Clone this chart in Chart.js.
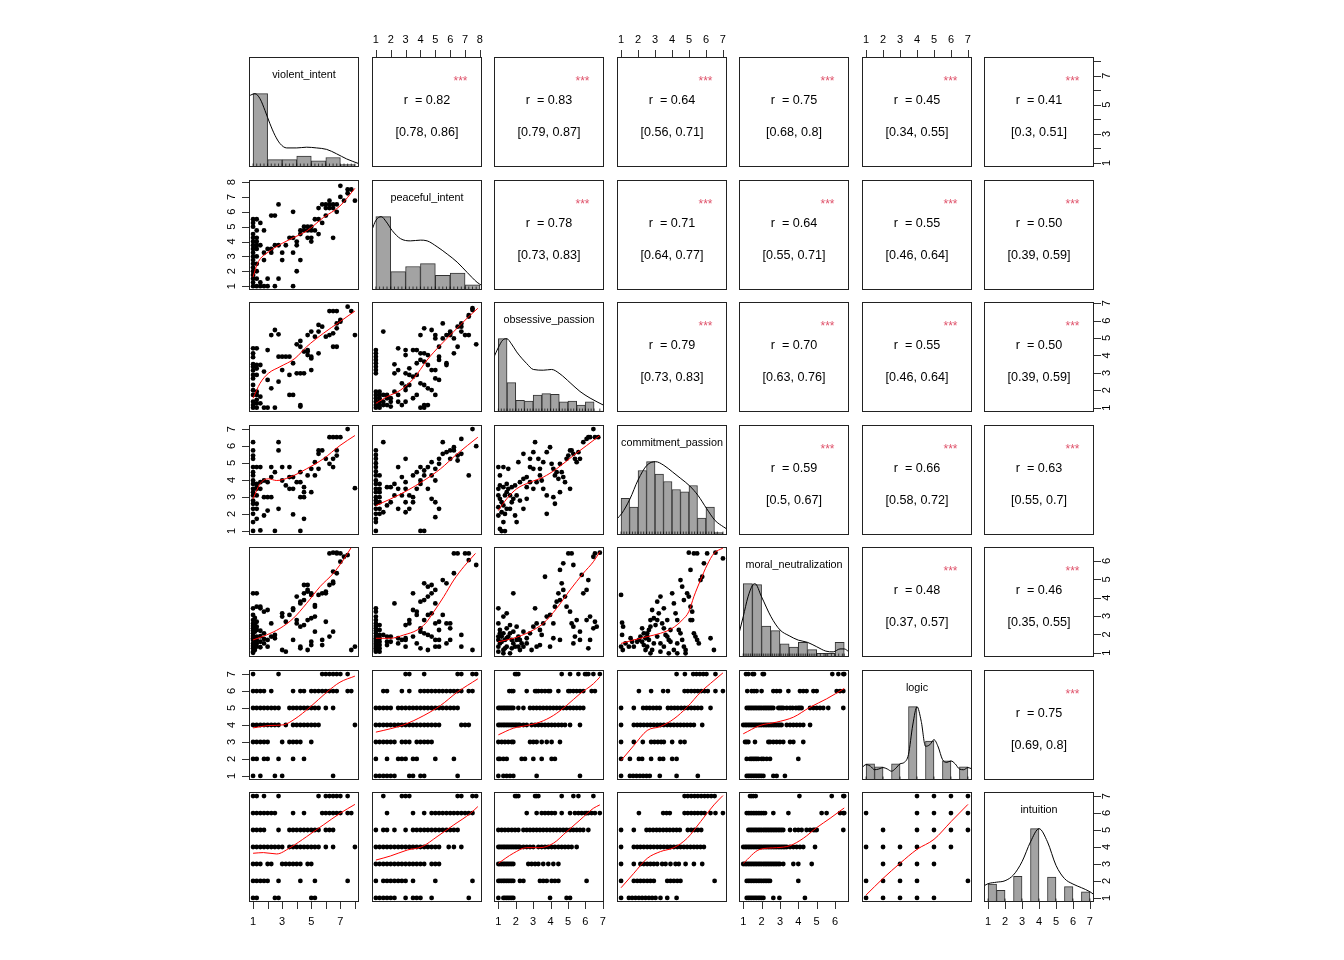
<!DOCTYPE html>
<html lang="en">
<head>
<meta charset="UTF-8">
<title>Pairs panels</title>
<script src="https://cdn.jsdelivr.net/npm/chart.js"></script>
<style>
  body { margin: 0; background: #fff; }
  #board { position: relative; width: 1344px; height: 960px; overflow: hidden; background: #fff; }
  #board canvas { position: absolute; }
</style>
</head>
<body>
<div id="board"></div>
<script>
// variables, axis ranges and ticks
const varNames = ['violent_intent', 'peaceful_intent', 'obsessive_passion', 'commitment_passion',
                  'moral_neutralization', 'logic', 'intuition'];
const axisLo = [0.72, 0.74, 0.75, 0.76, 0.77, 0.76, 0.76];
const axisHi = [8.28, 8.14, 7.07, 7.24, 6.76, 7.24, 7.24];
const tickVals = [[1,2,3,4,5,6,7,8], [1,2,3,4,5,6,7,8], [1,2,3,4,5,6,7], [1,2,3,4,5,6,7],
                  [1,2,3,4,5,6], [1,2,3,4,5,6,7], [1,2,3,4,5,6,7]];
const tickLabs = [[1,3,5,7], [1,2,3,4,5,6,7,8], [1,2,3,4,5,6,7], [1,2,3,4,5,6,7],
                  [1,2,3,4,5,6], [1,2,3,4,5,6,7], [1,2,3,4,5,6,7]];

// correlations (upper panels, row by row)
const rValues = ['0.82','0.83','0.64','0.75','0.45','0.41','0.78','0.71','0.64','0.55','0.50',
                 '0.79','0.70','0.55','0.50','0.59','0.66','0.63','0.48','0.46','0.75'];
const ciValues = ['[0.78, 0.86]','[0.79, 0.87]','[0.56, 0.71]','[0.68, 0.8]','[0.34, 0.55]','[0.3, 0.51]',
                  '[0.73, 0.83]','[0.64, 0.77]','[0.55, 0.71]','[0.46, 0.64]','[0.39, 0.59]',
                  '[0.73, 0.83]','[0.63, 0.76]','[0.46, 0.64]','[0.39, 0.59]',
                  '[0.5, 0.67]','[0.58, 0.72]','[0.55, 0.7]','[0.37, 0.57]','[0.35, 0.55]','[0.69, 0.8]'];

// histograms: [bin middle, height relative to tallest bin]
const histViolent = [[1.5,1.0],[2.5,0.1],[3.5,0.1],[4.5,0.15],[5.5,0.085],[6.5,0.13],[7.5,0.032]];
const histPeaceful = [[1.5,1.0],[2.5,0.25],[3.5,0.32],[4.5,0.36],[5.5,0.2],[6.5,0.23],[7.5,0.07]];
const histObsessive = [[1.25,1.0],[1.75,0.4],[2.25,0.16],[2.75,0.15],[3.25,0.23],[3.75,0.25],[4.25,0.24],
                       [4.75,0.14],[5.25,0.15],[5.75,0.095],[6.25,0.14],[6.75,0.014]];
const histCommitment = [[1.25,0.5],[1.75,0.38],[2.25,0.88],[2.75,1.0],[3.25,0.83],[3.75,0.73],[4.25,0.62],
                        [4.75,0.59],[5.25,0.675],[5.75,0.23],[6.25,0.38],[6.75,0.034]];
const histMoral = [[1.25,1.0],[1.75,0.986],[2.25,0.42],[2.75,0.36],[3.25,0.18],[3.75,0.136],[4.25,0.2],
                   [4.75,0.1],[5.25,0.05],[5.75,0.05],[6.25,0.2]];
const histLogic = [[1.25,0.22],[1.75,0.18],[2.75,0.22],[3.75,1.0],[4.75,0.53],[5.75,0.26],[6.75,0.18]];
const histIntuition = [[1.25,0.245],[1.75,0.16],[2.75,0.35],[3.75,1.0],[4.75,0.34],[5.75,0.21],[6.75,0.14]];

// density curves: [x, scaled density]
const densViolent = [[0.72,0.97],[1.13,1.0],[1.48,0.93],[1.82,0.77],[2.16,0.59],[2.51,0.43],[2.85,0.32],
                     [3.31,0.26],[4.0,0.26],[4.68,0.27],[5.37,0.26],[6.06,0.24],[6.74,0.18],[7.43,0.11],[8.28,0.045]];
const densPeaceful = [[0.74,0.82],[1.0,0.95],[1.36,1.0],[1.7,0.93],[2.1,0.81],[2.66,0.7],[3.33,0.67],[4.0,0.68],
                      [4.45,0.67],[5.12,0.59],[5.8,0.49],[6.47,0.38],[7.14,0.24],[7.81,0.105],[8.14,0.06]];
const densObsessive = [[0.75,0.75],[1.0,0.88],[1.25,0.98],[1.48,1.0],[1.75,0.93],[2.05,0.82],[2.63,0.66],
                       [3.01,0.58],[3.58,0.57],[4.06,0.58],[4.54,0.52],[5.12,0.4],[5.69,0.28],[6.27,0.19],[7.07,0.09]];
const densCommitment = [[0.76,0.22],[1.03,0.29],[1.52,0.49],[2.0,0.75],[2.52,0.95],[3.03,1.0],[3.52,0.95],
                        [4.03,0.86],[4.52,0.77],[5.04,0.67],[5.53,0.54],[6.04,0.36],[6.53,0.2],[7.04,0.11],[7.24,0.08]];
const densMoral = [[0.77,0.32],[1.0,0.55],[1.26,0.82],[1.51,0.98],[1.64,1.0],[2.0,0.82],[2.51,0.55],[3.0,0.37],
                   [3.5,0.29],[4.0,0.23],[4.5,0.2],[5.0,0.14],[5.5,0.08],[5.9,0.07],[6.27,0.11],[6.5,0.11],[6.76,0.07]];
const densLogic = [[0.76,0.17],[1.0,0.21],[1.25,0.19],[1.5,0.14],[1.75,0.15],[2.0,0.17],[2.25,0.15],[2.5,0.12],
                   [2.75,0.16],[3.0,0.22],[3.25,0.24],[3.5,0.35],[3.75,0.75],[4.0,1.0],[4.25,0.8],[4.5,0.46],
                   [4.75,0.48],[5.0,0.55],[5.25,0.45],[5.5,0.28],[5.75,0.24],[6.0,0.26],[6.25,0.22],[6.5,0.15],
                   [6.75,0.14],[7.0,0.17],[7.24,0.15]];
const densIntuition = [[0.76,0.22],[1.0,0.25],[1.5,0.27],[2.0,0.29],[2.5,0.37],[3.0,0.55],[3.5,0.82],[4.0,1.0],
                       [4.5,0.82],[5.0,0.5],[5.5,0.32],[6.0,0.245],[6.5,0.195],[7.0,0.14],[7.24,0.1]];

// rug values
const rugViolent = [1,1.25,1.5,1.75,2,2.25,2.5,2.75,3,3.25,3.5,3.75,4,4.25,4.5,4.75,5,5.25,5.5,5.75,6,6.25,6.5,6.75,7,7.25,7.5,7.75,8];
const rugPeaceful = [1,1.25,1.5,1.75,2,2.25,2.5,2.75,3,3.25,3.5,3.75,4,4.25,4.5,4.75,5,5.25,5.5,5.75,6,6.25,6.5,6.75,7,7.25,7.5,7.75];
const rugObsessive = [1,1.17,1.33,1.5,1.67,1.83,2,2.17,2.33,2.5,2.67,2.83,3,3.17,3.33,3.5,3.67,3.83,4,4.17,4.33,4.5,
                      4.67,4.83,5,5.17,5.33,5.5,5.67,5.83,6,6.17,6.33,6.5,6.83];
const rugCommitment = [1,1.17,1.33,1.5,1.67,1.83,2,2.17,2.33,2.5,2.67,2.83,3,3.17,3.33,3.5,3.67,3.83,4,4.17,4.33,4.5,
                       4.67,4.83,5,5.17,5.33,5.5,5.67,5.83,6,6.17,6.33,6.5,6.67,7];
const rugMoral = [1,1.1,1.2,1.3,1.4,1.5,1.6,1.7,1.8,1.9,2,2.1,2.2,2.3,2.4,2.5,2.6,2.7,2.8,2.9,3,3.1,3.2,3.3,3.4,3.5,
                  3.6,3.7,3.8,3.9,4,4.1,4.2,4.3,4.4,4.5,4.6,4.7,4.8,4.9,5,5.2,5.4,5.6,5.8,6,6.2,6.4,6.5];
const rugLogic = [1,2,3,4,5,6,7];
const rugIntuition = [1,2,3,4,5,6,7];

// scatter points, entries [x, y] or [x, [y, y, ...]]
const ptsPeaceViol = [[1,[5.5,5.25,5,4.5,4,3.75,3.5,3.25,3,2.5,2.25,2,1.75,1.5,1.25,1,2.75,4.25]],
  [1.25,[5.5,4.75,4.25,4,3.75,3.5,3,2.5,2,1.5,1]],[1.5,[5.25,3.75,1.25,1]],[1.75,[4.75,3.25,2.75,1]],
  [2,[3.5,1.5,1]],[2.25,[5.75,3.5,3.25]],[2.5,[5.75,3.75,1]],[2.75,[6.5,3.75,1.5]],[3,[3.25,2.75]],
  [3.25,[3.75]],[3.5,[4.25]],[3.75,[6,4.25,3.25,1]],[4,[4,3.75,2]],[4.25,[4.5,4.75,2.75]],[4.5,[4.75,5]],
  [4.75,[5,4.75,4.25]],[5,[5,4.75,4.25,4]],[5.25,[5.5,4.75]],[5.5,[6.25,5.5,4.5]],[5.75,[6.5,5.25]],
  [6,[6.5,6.25,5.75]],[6.25,[6.75,6.5,6.25]],[6.5,[6.5,6.25,4.25]],[6.75,[6.5,6]],[7,[7.75,7]],
  [7.25,[6.75]],[7.5,[7.5,7.25]],[7.75,[7.5]],[8,[6.75]]];
const fitPeaceViol = [[1,1.61],[1.25,2.4],[1.5,2.85],[1.89,3.18],[2.5,3.6],[3.54,4.15],[4.68,4.71],[5.83,5.61],[6.97,6.39],[8,7.58]];

const ptsObsViol = [[1,[4.41,4.12,3.9,3.5,3.35,3.14,2.88,2.68,2.3,2,1.73,1.34,1.15,1]],
  [1.25,[4.41,3.45,3.25,2.88,1.92,1.73,1.45,1.25,1]],[1.5,[3.45,1.63,1.25]],[1.75,[3.07,1]],[2,[4.31,2.59,1]],
  [2.25,[5.17,2.11]],[2.5,[5.46,1]],[2.75,[5.21,3.93,2.49]],[3,[3.93,3.16]],[3.25,[3.93]],[3.5,[3.93,2.88,1.73]],
  [3.75,[3.55,1.73]],[4,[4.64,2.97]],[4.25,[4.83,4.5,2.97,1.15,1.06]],[4.5,[4.22,2.97]],[4.75,[5.17,4.31,4.22,4.02]],
  [5,[5.37,3.93,3.83,3.16]],[5.25,[5.08]],[5.5,[5.75,5.37,4.12]],[5.75,[5.65]],[6,[5.08]],[6.25,[6.55,5.17]],
  [6.5,[6.55,5.27,4.5]],[6.75,[6.55,5.84,5.56,4.5]],[7,[6.04,5.94]],[7.5,[6.8]],[7.75,[6.55]],[8,[5.17]]];
const fitObsViol = [[1,1.54],[1.48,2.4],[2.05,2.97],[2.85,3.35],[3.88,3.83],[4.68,4.5],[5.83,5.27],[6.97,5.94],[8,6.55]];

const ptsObsPeace = [[1,[4.31,4.12,3.93,3.74,3.55,3.35,3.16,2.97,1.92,1.73,1.54,1.34,1.15,1]],
  [1.25,[1.92,1.73,1.54,1.34,1.15,1]],[1.5,[5.37,1.73,1.34,1.15]],[1.75,[1.73,1.15,1.54]],[2,[1.54,1.06,1.34]],
  [2.25,[3.49,1.92,2.97]],[2.5,[4.41,1.73,1.34,3.16]],[2.75,[2.4,1.15]],[3,[4.02,4.31,2.21,2.01,1.34,2.97]],
  [3.25,[2.88,2.3,3.26]],[3.5,[4.31,2.78,1.54]],[3.75,[4.31,3.55,2.88,1.73]],[4,[4.12,3.74,2.4,1,5.17]],
  [4.25,[4.12,5.56,3.64,2.3,1.15,1]],[4.5,[4.02,3.45,2.11,1.15]],[4.75,[5.46,3.16,2.01]],
  [5,[4.98,5.17,3.16,1.73,2.68]],[5.25,[3.93,4.5,2.59,3.74]],[5.5,[5.84,4.98]],[5.75,[5.17,3.55,3.45]],
  [6,[5.27,5.37,5.17]],[6.25,[4.98,4.12]],[6.5,[5.65,4.5]],[6.75,[5.65,5.84,5.37]],[7,[5.17]],
  [7.25,[6.23,6.32,5.17]],[7.5,[6.61,6.71]],[7.75,[4.64]]];
const fitObsPeace = [[1,1.25],[1.76,1.63],[2.66,2.01],[3.55,2.68],[4.45,3.74],[5.35,4.6],[6.24,5.37],[7.14,6.14],[7.86,6.71]];

const ptsComViol = [[1,[6.23,5.74,5.44,5.25,4.76,4.46,4.27,3.97,3.77,3.48,3.28,3.09,2.79,2.6,2.3,2.01,1.52,1]],
  [1.25,[4.76,3.77,3.58,3.48,3.09,2.6,2.3,1.71]],[1.5,[4.76,3.87,3.48,1.03]],[1.75,[3.97,2.99,1.91]],
  [2,[3.87,2.99,2.2]],[2.25,[4.76,4.17,2.99]],[2.5,[4.46,1]],[2.75,[6.23,5.74,2.3]],[3,[4.76,3.97]],
  [3.25,[3.68]],[3.5,[4.76,4.17,3.48]],[3.75,[1.97,3.48,4.17]],[4,[3.87]],[4.25,[1,3.87,4.46,2.99]],
  [4.5,[1.71,3.58,3.28,2.99]],[4.75,[4.27]],[5,[3.28,4.66]],[5.25,[4.27,5.05]],[5.5,[5.54,5.74,4.66]],
  [5.75,[5.74]],[6,[5.25]],[6.25,[4.95,6.52]],[6.5,[4.76,5.25,6.52]],[6.75,[5.44,5.74,6.52]],[7,[6.52]],
  [7.5,[7]],[8,[3.52]]];
const fitComViol = [[1,2.89],[1.48,3.78],[2.05,4.07],[2.62,3.97],[3.54,4.17],[4.68,4.66],[5.83,5.25],[6.97,6.03],[8,6.62]];

const ptsComPeace = [[1,[5.74,5.48,5.25,4.99,4.76,4.5,4.27,3.97,3.77,3.48,3.28,2.99,2.79,2.6,2.3,2.01,1.71,1.52,1]],
  [1.25,[4.27,3.77,3.48,3.28,2.99,2.69,2.3,2.01]],[1.5,[6.23,2.1]],[1.75,[3.58,2.5]],[2,[3.58,2.69]],
  [2.25,[3.77,3.09]],[2.5,[4.76,2.3,3.48]],[2.75,[3.09,4.17]],[3,[5.25,3.48,3.87,2.69,2.1]],[3.25,[3.09,2.3]],
  [3.5,[2.99,4.27,2.69]],[3.75,[4.46,3.48]],[4,[4.76,3.97,3.77,1]],[4.25,[4.27,4.56,1]],[4.5,[4.76,3.48]],
  [4.75,[5.05,4.27,2.89]],[5,[3.97,4.66,2.69,1.81]],[5.25,[4.95,5.25,2.3]],[5.5,[6.23,5.54]],[5.75,[5.64]],
  [6,[5.74,5.25]],[6.25,[5.74,5.93]],[6.5,[5.44,5.15]],[6.75,[5.54,6.42]],[7.25,[4.27]],[7.5,[7]],[7.75,[5.99]]];
const fitComPeace = [[1,2.49],[1.98,2.88],[3.11,3.38],[4.23,3.97],[5.35,4.66],[6.47,5.54],[7.86,6.52]];

const ptsComObs = [[1,[4.76,3.09,1.91,2.4,3.48]],[1.09,[4.27,1.12,2.89,3.68]],[1.19,[0.99,2.69,2.1]],
  [1.29,[4.76,1.52,2.5,3.58]],[1.38,[0.99,3.09,2.0]],[1.48,[3.28,2.3,3.77]],[1.57,[4.66,3.48]],
  [1.67,[3.09,2.3]],[1.77,[2.69,3.58]],[1.86,[2.89]],[1.96,[1.91,3.68]],[2.05,[1.52,3.09]],[2.15,[5.05]],
  [2.24,[2.79,3.87]],[2.44,[5.54,2.3,4.07]],[2.63,[3.58,2.89,4.17]],[2.82,[5.25,3.87,4.76]],
  [3.01,[5.64,3.48,4.66]],[3.11,[6.23]],[3.2,[3.87]],[3.3,[5.25]],[3.39,[4.66,4.27]],[3.49,[3.97]],
  [3.58,[5.05,3.48]],[3.78,[5.64,2.01,3.09]],[3.97,[5.93]],[4.06,[4.95]],[4.16,[4.66,2.99]],[4.25,[4.27,2.6]],
  [4.35,[4.46]],[4.45,[4.07]],[4.54,[4.95,3.28]],[4.64,[4.46]],[4.73,[4.17]],[4.83,[3.87]],[4.92,[5.25]],
  [5.02,[5.44]],[5.12,[5.74,3.48]],[5.21,[5.74]],[5.31,[5.54]],[5.4,[5.25]],[5.5,[5.05]],[5.6,[5.64]],
  [5.69,[5.25]],[5.88,[6.23]],[6.07,[6.42]],[6.17,[6.52]],[6.27,[6.52]],[6.46,[7]],[6.55,[6.52]],[6.74,[6.52]]];
const fitComObs = [[1,2.2],[1.48,2.89],[2.05,3.48],[2.82,3.87],[3.58,4.17],[4.35,4.66],[5.31,5.44],[6.07,6.03],[6.83,6.62]];

const ptsMorViol = [[1,[4.24,3.42,3.06,2.78,2.6,2.46,2.33,2.2,2.06,1.91,1.79,1.7,1.51,1.37,1.24,1.06,1]],
  [1.12,[2.9,2.5,2.15,1.85,1.6,1.4,1.15]],
  [1.25,[4.24,3.51,2.69,2.42,2.24,1.88,1.7,1.51,1.33]],[1.5,[3.42,3.51,2.2,1.9,1.6,1.3]],[1.75,[3.24,2.06,1.51,1.75]],
  [2,[3.33,1.7,1.33]],[2.25,[2.6,1.88]],[2.5,[1.97,1.79]],[3,[3.15,2.97,1.15]],[3.25,[2.69,1.06]],
  [3.5,[3.06]],[3.75,[3.33,3.42,1.7]],[4,[2.6,2.78,4.06]],[4.25,[2.42,3.69,3.78,1.33,1.24]],
  [4.5,[2.51,3.87,4.24,4.69]],[4.75,[2.78,4.33,4.42,4.69,1.15]],[5,[2.88,4.24,4.15,1.42,1.6]],
  [5.25,[2.97,2.15,3.51,3.6]],[5.5,[4.15]],[5.75,[4.24,1.42,1.7]],[6,[2.69,4.33,4.24]],
  [6.25,[4.69,6.41,1.88]],[6.5,[5.42,4.87,4.78,6.45,2.15]],[6.75,[5.33,6.45,6.41]],[7,[5.96,6.41]],
  [7.25,[6.23]],[7.5,[6.32]],[7.75,[1.15]],[8,[1.33]]];
const fitMorViol = [[1,1.7],[1.93,1.97],[2.85,2.33],[3.77,2.88],[4.68,3.69],[5.6,4.6],[6.52,5.33],[7.2,6.05],[7.75,6.74]];

const ptsMorPeace = [[1,[3.42,3.24,2.97,2.78,2.6,2.46,2.33,2.2,2.06,1.91,1.79,1.7,1.6,1.51,1.42,1.33,1.24,1.15,1.06]],
  [1.25,[2.51,2.24,1.97,1.79,1.6,1.42,1.24,1.06]],[1.5,[1.97]],[1.75,[1.6,1.42,1.88]],[2,[1.88,1.6]],
  [2.25,[3.69]],[2.5,[1.51,1.79]],[2.75,[1.7]],[3,[1.33,2.51,1.79,1.7]],[3.25,[2.78,2.6]],[3.5,[4.24,3.33,1.88]],
  [3.75,[3.24,3.06,1.51]],[4,[2.15,2.33,3.78,1.24]],[4.25,[3.87,4.78,2.78,2.06]],[4.5,[4.06,4.6,1.15,3.06,1.97]],
  [4.75,[4.69,4.24,3.15,1.88]],[5,[3.69,4.42,1.7,1.33,2.6]],[5.25,[1.33,2.24,1.7,2.69]],[5.5,[3.06,4.96]],
  [5.75,[4.78,2.6,1.51]],[6,[2.6,2.33,1.7]],[6.25,[5.33,6.41]],[6.5,[6.41]],[6.75,[1.97,1.33]],[7,[6.41]],
  [7.25,[6.41,6.05]],[7.5,[1.15]],[7.75,[5.78]]];
const fitMorPeace = [[1,1.79],[1.98,1.79],[2.88,1.97],[3.78,2.24],[4.34,2.6],[4.9,3.24],[5.57,4.06],[6.24,4.96],[6.92,5.69],[7.7,6.41]];

const ptsMorObs = [[1,[3.42,2.6,1.7,1.33,1.88,1.06]],[1.09,[2.24,1.51,2.06]],[1.19,[1.88,1.6]],
  [1.29,[2.97,2.06,1.15,0.97]],[1.38,[1.7,1.24]],[1.48,[3.15,2.33,1.33,1.79]],[1.57,[1.88]],[1.67,[2.51,0.97,2.06]],
  [1.77,[1.7,1.24]],[1.86,[4.24,2.15,1.51]],[1.96,[1.33]],[2.05,[2.42,1.7]],[2.15,[1.88,1.33]],[2.24,[1.7,1.15]],
  [2.34,[1.51]],[2.44,[2.15,1.33]],[2.63,[1.79,1.51]],[2.82,[2.06]],[2.91,[1.15]],[3.01,[2.42]],[3.11,[3.42]],
  [3.2,[2.6,1.33]],[3.39,[2.24,1.42]],[3.49,[1.97]],[3.58,[2.6]],[3.68,[5.14]],[3.78,[2.97]],[3.97,[3.06,1.33]],
  [4.16,[2.6,1.79]],[4.25,[3.51]],[4.35,[3.78]],[4.45,[4.24]],[4.54,[3.87,5.51,1.7]],[4.64,[4.78]],
  [4.73,[4.42,5.87]],[4.83,[4.06]],[4.92,[3.51]],[5.02,[6.41]],[5.12,[3.24]],[5.21,[2.6,6.41]],
  [5.31,[2.42,5.78,1.51]],[5.4,[1.88]],[5.5,[2.78]],[5.69,[2.15,1.7]],[5.79,[5.24]],[5.88,[4.24]],
  [6.07,[2.78,4.42]],[6.17,[4.96,1.24]],[6.27,[2.97,1.7]],[6.46,[2.33,6.23]],[6.55,[2.69,6.41]],[6.65,[2.42]],
  [6.83,[6.45]]];
const fitMorObs = [[1,1.6],[1.86,1.79],[2.82,2.15],[3.58,2.6],[4.35,3.42],[5.12,4.42],[5.88,5.33],[6.46,5.96],[6.83,6.5]];

const ptsMorCom = [[1,[4.15,1.33]],[1.06,[2.64,1.97]],[1.12,[2.42]],[1.1,[1.15]],[1.26,[1.51]],[1.46,[1.33]],
  [1.56,[1.79]],[1.65,[1.6]],[1.75,[1.33]],[1.95,[1.6]],[2.05,[1.7]],[2.14,[1.88]],[2.24,[2.33,1.6]],
  [2.34,[2.06,1.42]],[2.44,[1.79,1.15]],[2.54,[1.88,1.33,2.06]],[2.64,[1.7,2.24]],[2.73,[2.42,2.78,0.97]],
  [2.83,[3.33,1.15]],[2.93,[2.88,1.51]],[3.03,[2.51]],[3.13,[2.78,1.88,3.78]],[3.22,[3.15]],
  [3.32,[4.06,1.51,1.06]],[3.42,[2.6]],[3.52,[2.33,1.33,3.42]],[3.62,[1.97]],[3.72,[1.88,2.78]],
  [3.81,[1.7,0.97]],[3.91,[1.6,2.24]],[4.01,[4.24]],[4.11,[3.69,1.15]],[4.21,[3.15]],[4.31,[2.78,1.51,0.97]],
  [4.4,[2.24]],[4.5,[2.06,4.96]],[4.6,[1.7,4.6]],[4.7,[1.33,3.87]],[4.8,[0.97,1.15]],[4.89,[4.24]],
  [4.99,[4.06,6.45]],[5.09,[3.51,5.51,2.78]],[5.19,[3.24,2.78]],[5.29,[2.06,6.41]],[5.38,[1.88]],
  [5.48,[1.7,6.41]],[5.58,[1.51]],[5.68,[4.96]],[5.78,[5.14]],[5.88,[5.87]],[6.07,[6.41]],[6.27,[1.79]],
  [6.47,[1.15]],[6.56,[6.45]],[7,[6.14]]];
const fitMorCom = [[1,1.51],[1.75,1.7],[2.54,1.88],[3.32,2.06],[4.01,2.33],[4.6,2.78],[4.99,3.24],[5.29,4.06],[5.68,4.96],[6.07,5.78],[6.47,6.41],[7,6.7]];

// logic / intuition panels, entries [y, [x, x, ...]]
const rowsLogViol = [[7,[1,2.75,5.75,6,6.25,6.5,6.75,7,7.5]],
  [6,[1,1.25,1.5,1.75,2.25,3.75,4.25,4.5,5,5.25,5.5,5.75,6,6.25,6.5,6.75,7.5,7.75]],
  [5,[1,1.25,1.5,1.75,2,2.25,2.5,2.75,3.5,3.75,4,4.25,4.5,4.75,5,5.25,5.5,6,6.5]],
  [4,[1,1.25,1.5,1.75,2,2.25,2.5,2.75,3.25,3.75,4,4.25,4.5,4.75,5,5.25,5.5,8]],
  [3,[1,1.25,1.5,1.75,2,3,3.5,3.75,4,4.25,5]],[2,[1,1.25,1.75,2,2.75,3.75,4.5]],[1,[1,1.5,2.5,3,6.5]]];
const fitLogViol = [[1,3.83],[2.16,3.97],[3.08,4.01],[3.88,4.36],[4.91,5.05],[6.06,5.93],[6.97,6.52],[8,6.88]];

const rowsLogPeace = [[7,[3,3.25,4.25,6.5,6.75,7.5,7.75]],
  [6,[1.5,1.75,2.75,3.25,4,4.25,4.5,4.75,5,5.25,5.5,5.75,6,6.25,6.5,6.75,7.25,7.5]],
  [5,[1,1.25,1.5,1.75,2,2.5,2.75,3,3.25,3.5,3.75,4,4.25,4.5,4.75,5,5.25,5.5,5.75,6,6.25,6.5]],
  [4,[1,1.25,1.5,1.75,2,2.25,2.5,2.75,3,3.25,3.5,3.75,4,4.25,4.5,4.75,5,5.25,6.75,7,7.25]],
  [3,[1,1.25,1.5,1.75,2,2.25,2.75,3,3.25,3.75,4,4.25,4.5,4.75]],[2,[1,1.75,2.5,2.75,3,3.5,3.75,5,6.25]],
  [1,[1,1.25,1.5,1.75,2,2.25,3.25,3.5,4,4.25,6.5]]];
const fitLogPeace = [[1,3.58],[1.98,3.78],[2.88,4.01],[4.23,4.56],[5.35,5.15],[6.47,5.93],[7.86,6.72]];

const rowsLogObs = [[7,[1.96,2.05,2.15,4.64,5.12,5.6,5.98,6.07,6.17,6.46,6.83]],
  [6,[1.63,1.77,1.86,2.63,3.11,3.2,3.3,3.49,3.68,3.87,3.97,4.45,5.02,5.12,5.31,5.5,5.69,5.88,6.36,6.55]],
  [5,[1,1.09,1.19,1.29,1.38,1.48,1.57,1.67,1.77,1.86,2.15,2.44,2.82,3.01,3.2,3.39,3.58,3.78,3.97,4.16,4.35,
      4.54,4.73,4.92,5.12,5.31,5.5,5.69,5.88]],
  [4,[1,1.09,1.19,1.29,1.38,1.48,1.57,1.67,1.77,1.86,1.96,2.05,2.15,2.24,2.44,2.63,2.91,3.11,3.3,3.49,3.68,
      3.87,4.06,4.25,4.45,4.64,4.83,5.12,5.69]],
  [3,[1,1.19,1.38,1.57,1.77,1.86,2.82,3.01,3.2,3.49,3.78,4.06,4.54]],
  [2,[1,1.09,1.29,1.48,2.34,2.53,3.01,3.49,4.06,4.25]],[1,[1,1.29,1.48,1.67,1.86,3.2,5.69]]];
const fitLogObs = [[1,3.42],[1.86,3.81],[2.63,3.97],[3.39,4.17],[4.16,4.56],[4.92,5.15],[5.69,5.84],[6.46,6.43],[6.83,6.82]];

const rowsLogCom = [[7,[4.27,4.76,5.25,5.44,5.64,5.84,6.03,6.56]],
  [6,[2.05,2.77,3.48,3.76,4.74,4.93,5.13,5.33,5.52,5.72,5.92,6.11,6.56,7]],
  [5,[1,1.75,2.3,2.5,2.69,2.89,3.09,3.28,3.76,3.95,4.15,4.34,4.54,4.74,4.93,5.13,5.33,5.52,5.72,6.27]],
  [4,[1,1.75,1.95,2.14,2.34,2.54,2.73,2.93,3.13,3.32,3.52,3.72,3.91,4.11,4.31,4.5,4.7,4.89,5.09,5.29,5.78]],
  [3,[1,1.75,2.28,2.77,2.97,3.17,3.36,3.52,4.01,4.5,4.74]],[2,[1,1.52,2.05,2.24,2.77,3.28,3.48,4.01,4.27]],
  [1,[1,1.52,1.71,1.91,2.11,2.3,2.5,2.69,3.28,4.27,5.52]]];
const fitLogCom = [[1,1.91],[1.75,2.79],[2.54,3.68],[3.32,3.91],[4.11,4.36],[4.89,5.05],[5.68,5.93],[6.47,6.62],[7,7.07]];

const rowsLogMor = [[7,[1.15,1.28,1.51,1.59,2.06,2.13,5.85,6.18,6.45,6.5]],
  [6,[1.22,1.46,1.59,1.73,2,2.64,2.82,3,3.46,4.09,4.27,4.45,4.82,5,6.09,6.27,6.45]],
  [5,[1.19,1.28,1.37,1.46,1.55,1.64,1.73,1.82,1.91,2,2.1,2.19,2.28,2.37,2.46,2.55,2.64,2.91,3,3.09,3.18,3.37,
      3.55,3.69,3.87,4,4.09,4.18,4.64,4.82,5,5.18,5.36,5.63,6.45]],
  [4,[1,1.1,1.19,1.28,1.37,1.46,1.55,1.64,1.73,1.82,1.91,2,2.1,2.19,2.28,2.37,2.46,2.55,2.64,2.73,2.82,2.91,
      3,3.09,3.37,3.55,3.73,3.91,4.09,4.27,4.64]],
  [3,[1.1,1.19,1.28,1.64,2.37,2.46,2.64,2.82,3,3.18,3.55,3.73,4.27]],
  [2,[1.19,1.37,1.46,1.55,1.64,1.73,1.82,2,2.1,2.28,2.46,4]],
  [1,[1.19,1.28,1.37,1.46,1.55,1.64,1.73,1.82,1.91,2,2.1,2.64,2.82,3.27]]];
const fitLogMor = [[1,3.48],[1.91,3.97],[2.82,4.17],[3.73,4.46],[4.64,5.05],[5.54,5.54],[6.5,6.15]];

const rowsIntViol = [[7,[1,1.25,1.75,2.75,5.5,6,6.25,6.5,6.75,7,7.5]],
  [6,[1,1.25,1.5,1.75,2,2.25,2.5,3.75,4.5,5.75,6,6.25,6.5,6.75,7,7.5,7.75]],
  [5,[1,1.25,1.5,1.75,2.75,3.5,3.75,4,4.25,4.5,4.75,5,5.25,5.5,6,6.25,6.5]],
  [4,[1,1.25,1.5,1.75,2,2.25,2.5,2.75,3,3.5,3.75,4,4.25,4.5,4.75,5,5.25,5.5,6,6.5,8]],
  [3,[1,1.25,1.5,2,2.25,3,3.25,3.5,3.75,4,4.25,4.75,5]],[2,[1,1.25,1.5,1.75,2,2.75,4.25,5.25,7.5]],
  [1,[1,1.25,2.5,2.75,5,5.25]]];
const fitIntViol = [[1,3.63],[1.71,3.67],[2.62,3.59],[3.54,3.96],[4.68,4.61],[5.83,5.3],[6.97,5.98],[8,6.51]];

const rowsIntPeace = [[7,[1.5,2.75,3,3.25,6.5,6.75,7.5,7.75]],
  [6,[1.75,3.5,4.25,4.75,5,5.25,5.5,5.75,6,6.25,6.5,6.75,7,7.25,7.5]],
  [5,[1,1.5,1.75,2.25,3,3.5,3.75,4,4.25,4.5,4.75,5,5.25,5.5,5.75,6,6.25,6.5]],
  [4,[1,1.25,1.5,1.75,2,2.25,2.5,2.75,3,3.25,3.5,3.75,4,4.25,4.5,4.75,5,5.25,5.9,6.25,6.75]],
  [3,[1,1.25,1.5,1.75,2,2.25,2.5,2.75,3,3.25,3.5,3.75,4,4.25,4.75,5,5.25]],
  [2,[1,1.5,1.75,2,2.25,2.5,2.75,3,3.5,5,7.5]],[1,[1,1.25,1.5,1.75,2,2.25,3,3.5,3.75,4,4.75,7.25]]];
const fitIntPeace = [[1,3.23],[1.98,3.47],[3.11,3.82],[4.11,4.02],[5.12,4.61],[6.24,5.3],[7.36,5.98],[7.86,6.38]];

const rowsIntObs = [[7,[1.96,2.05,2.15,3.11,3.2,3.3,4.64,5.31,5.6,6.46]],
  [6,[2.63,3.2,3.49,3.68,3.87,4.06,4.25,4.64,5.12,5.4,5.6,5.79,5.98,6.07,6.17,6.36,6.55,6.83]],
  [5,[1,1.19,1.38,1.57,1.77,1.96,2.15,2.44,2.63,2.82,3.01,3.2,3.39,3.58,3.78,3.97,4.16,4.35,4.54,4.73,4.92,
      5.12,5.31,5.5,5.69,5.88,6.17]],
  [4,[1,1.09,1.19,1.29,1.38,1.48,1.57,1.67,1.77,1.86,1.96,2.05,2.15,2.24,2.44,2.63,2.82,3.01,3.3,3.49,3.68,
      3.87,4.06,4.25,4.45,4.64,4.83,5.02,5.21,5.5]],
  [3,[1,1.09,1.19,1.29,1.38,1.48,1.57,1.67,1.77,1.86,2.72,2.91,3.11,3.3,3.58,3.87,4.16,4.45]],
  [2,[1,1.09,1.19,1.29,1.38,1.48,1.57,1.67,1.77,1.86,2.24,2.44,3.39,3.58,3.78,4.06,4.25,4.45,6.07]],
  [1,[1,1.29,1.38,1.48,1.57,1.67,1.77,1.86,3.97,4.92,5.12]]];
const fitIntObs = [[1,3.04],[1.86,3.63],[2.63,3.96],[3.39,3.96],[4.16,4.22],[4.92,4.9],[5.69,5.59],[6.46,6.28],[6.83,6.48]];

const rowsIntCom = [[7,[4.74,4.93,5.13,5.33,5.52,5.72,5.92,6.11,6.31,6.51]],
  [6,[2.05,3.48,3.68,3.87,4.74,4.93,5.13,5.33,5.52,5.72,5.92,6.27,6.56,7]],
  [5,[1,1.75,2.5,2.69,2.89,3.09,3.28,3.48,3.68,3.87,4.07,4.27,4.46,4.93,5.13,5.33,5.52,5.72]],
  [4,[1,1.75,1.95,2.14,2.34,2.54,2.73,2.93,3.13,3.32,3.52,3.72,3.91,4.11,4.31,4.5,4.7,4.89,5.09,5.29,5.48,5.68,5.88]],
  [3,[1,1.75,2.14,2.34,2.54,2.73,2.93,3.13,3.42,3.62,3.91,4.21,4.4,4.8,5.29,5.78]],
  [2,[1,1.75,1.95,2.14,2.34,2.54,2.73,2.93,3.72,3.91,4.11,4.31,4.5,6.51]],
  [1,[1,1.46,1.65,1.85,2.05,2.24,2.44,2.64,2.83,3.03,3.32,3.72,4.27]]];
const fitIntCom = [[1,1.6],[1.75,2.45],[2.54,3.33],[3.32,3.73],[4.11,3.96],[4.89,4.51],[5.68,5.49],[6.47,6.48],[7,7.03]];

const rowsIntMor = [[7,[1.37,1.46,1.55,1.68,4.06,5.82,6.45,6.5]],
  [6,[1.19,1.28,1.37,1.46,1.55,1.64,1.73,1.82,1.91,2,2.1,2.19,2.64,3.46,5.27,5.54,6.27,6.45,6.5]],
  [5,[1.28,1.37,1.46,1.55,1.64,1.73,1.82,1.91,2,2.1,2.19,2.28,2.37,2.46,2.55,2.64,2.73,2.82,2.91,3,3.09,3.18,
      3.55,3.82,4,4.18,4.45,4.64,4.82,4.91,5,6.45]],
  [4,[1,1.1,1.19,1.28,1.37,1.46,1.55,1.64,1.73,1.82,1.91,2,2.1,2.19,2.28,2.37,2.46,2.55,2.64,2.73,2.82,2.91,
      3,3.09,3.18,3.27,3.37,3.55,3.73,3.91,4.09,4.27,4.91]],
  [3,[1,1.1,1.19,1.28,1.37,1.46,1.55,1.64,1.73,1.82,1.91,2,2.1,2.19,2.28,2.37,2.46,2.55,2.64,2.73,2.82,2.91,
      3,3.18,3.73,4,4.73]],
  [2,[1.19,1.28,1.37,1.46,1.55,1.64,1.73,1.82,1.91,2,2.1,2.19,2.28,2.37,2.46,4]],
  [1,[1.19,1.28,1.37,1.46,1.55,1.64,1.73,1.82,1.91,2,2.1,2.64,2.97,4.36]]];
const fitIntMor = [[1,3.04],[1.91,3.86],[2.82,3.96],[3.55,4.08],[4.27,4.51],[5,5.14],[5.73,5.69],[6.5,6.3]];

const rowsIntLog = [[7,[4,5,6,7]],[6,[1,4,5,6,7]],[5,[2,4,5,6,7]],[4,[1,2,3,4,5,6]],[3,[2,3,4,5]],
  [2,[1,2,3,4,7]],[1,[1,2,3,4,5]]];
const fitIntLog = [[1,1.17],[2,2.15],[3,3.04],[4,3.86],[5,4.45],[6,5.49],[7,6.51]];

// ---- helpers ----
function fromCols(list) {
  const out = [];
  list.forEach(([x, ys]) => (Array.isArray(ys) ? ys : [ys]).forEach(y => out.push({x, y})));
  return out;
}
function fromRows(list) {
  const out = [];
  list.forEach(([y, xs]) => xs.forEach(x => out.push({x, y})));
  return out;
}
const asXY = list => list.map(([x, y]) => ({x, y}));

const diagData = [
  [histViolent, densViolent, rugViolent], [histPeaceful, densPeaceful, rugPeaceful],
  [histObsessive, densObsessive, rugObsessive], [histCommitment, densCommitment, rugCommitment],
  [histMoral, densMoral, rugMoral], [histLogic, densLogic, rugLogic], [histIntuition, densIntuition, rugIntuition]
];
const lowerData = {
  '1,0': [fromCols(ptsPeaceViol), fitPeaceViol],
  '2,0': [fromCols(ptsObsViol), fitObsViol], '2,1': [fromCols(ptsObsPeace), fitObsPeace],
  '3,0': [fromCols(ptsComViol), fitComViol], '3,1': [fromCols(ptsComPeace), fitComPeace],
  '3,2': [fromCols(ptsComObs), fitComObs],
  '4,0': [fromCols(ptsMorViol), fitMorViol], '4,1': [fromCols(ptsMorPeace), fitMorPeace],
  '4,2': [fromCols(ptsMorObs), fitMorObs], '4,3': [fromCols(ptsMorCom), fitMorCom],
  '5,0': [fromRows(rowsLogViol), fitLogViol], '5,1': [fromRows(rowsLogPeace), fitLogPeace],
  '5,2': [fromRows(rowsLogObs), fitLogObs], '5,3': [fromRows(rowsLogCom), fitLogCom],
  '5,4': [fromRows(rowsLogMor), fitLogMor],
  '6,0': [fromRows(rowsIntViol), fitIntViol], '6,1': [fromRows(rowsIntPeace), fitIntPeace],
  '6,2': [fromRows(rowsIntObs), fitIntObs], '6,3': [fromRows(rowsIntCom), fitIntCom],
  '6,4': [fromRows(rowsIntMor), fitIntMor], '6,5': [fromRows(rowsIntLog), fitIntLog]
};

// ---- layout ----
const PANEL_X = [249, 371.5, 494, 616.5, 739, 861.5, 984];
const PANEL_Y = [57, 179.5, 302, 424.5, 547, 669.5, 792];
const SIZE = 110, PAD = 30;
const FONT = '"Liberation Sans", Arial, Helvetica, sans-serif';

// box, axes and texts of one panel
const panelDecor = {
  id: 'panelDecor',
  afterDraw(chart, args, o) {
    const ctx = chart.ctx, a = chart.chartArea;
    const xs = chart.scales.x, ys = chart.scales.y;
    const w = a.right - a.left, h = a.bottom - a.top;
    ctx.save();
    ctx.strokeStyle = '#222';
    ctx.lineWidth = 1;
    ctx.strokeRect(a.left + 0.5, a.top + 0.5, w - 1, h - 1);
    ctx.fillStyle = '#000';
    ctx.textAlign = 'center';
    ctx.textBaseline = 'middle';
    if (o.label) {
      ctx.font = '10.8px ' + FONT;
      ctx.fillText(o.label, a.left + w / 2, a.top + 18);
    }
    if (o.r) {
      ctx.font = '12.6px ' + FONT;
      ctx.fillText('r  = ' + o.r, a.left + w / 2, a.top + 44);
      ctx.fillText(o.ci, a.left + w / 2, a.top + 76);
      ctx.fillStyle = '#DF536B';
      ctx.font = '12px ' + FONT;
      ctx.fillText('***', a.left + 88.5, a.top + 25);
      ctx.fillStyle = '#000';
    }
    ctx.font = '11px ' + FONT;
    ctx.strokeStyle = '#333';
    const ax = o.axis;
    if (ax && ax.side) {
      const isX = ax.side === 'top' || ax.side === 'bottom';
      const sc = isX ? xs : ys;
      const px = ax.ticks.map(v => Math.round(sc.getPixelForValue(v)) + 0.5);
      ctx.beginPath();
      px.forEach(p => {
        if (ax.side === 'top') { ctx.moveTo(p, a.top); ctx.lineTo(p, a.top - 7); }
        if (ax.side === 'bottom') { ctx.moveTo(p, a.bottom); ctx.lineTo(p, a.bottom + 7); }
        if (ax.side === 'left') { ctx.moveTo(a.left, p); ctx.lineTo(a.left - 7, p); }
        if (ax.side === 'right') { ctx.moveTo(a.right, p); ctx.lineTo(a.right + 7, p); }
      });
      ctx.stroke();
      ax.labels.forEach(v => {
        const p = sc.getPixelForValue(v);
        if (ax.side === 'top') ctx.fillText(String(v), p, a.top - 17.5);
        else if (ax.side === 'bottom') ctx.fillText(String(v), p, a.bottom + 19.5);
        else {
          ctx.save();
          ctx.translate(ax.side === 'left' ? a.left - 17.5 : a.right + 13, p);
          ctx.rotate(-Math.PI / 2);
          ctx.fillText(String(v), 0, 0);
          ctx.restore();
        }
      });
    }
    ctx.restore();
  }
};

const board = document.getElementById('board');
let upperIdx = 0;

for (let i = 0; i < 7; i++) {
  for (let j = 0; j < 7; j++) {
    const canvas = document.createElement('canvas');
    canvas.width = SIZE + 2 * PAD;
    canvas.height = SIZE + 2 * PAD;
    canvas.style.left = (Math.round(PANEL_X[j]) - PAD) + 'px';
    canvas.style.top = (Math.round(PANEL_Y[i]) - PAD) + 'px';
    board.appendChild(canvas);

    // which outer axis this panel carries
    let axis = null;
    if (i === 0 && j % 2 === 1) axis = {side: 'top', ticks: tickVals[j], labels: tickLabs[j]};
    if (i === 6 && j % 2 === 0) axis = {side: 'bottom', ticks: tickVals[j], labels: tickLabs[j]};
    if (j === 0 && i % 2 === 1) axis = {side: 'left', ticks: tickVals[i], labels: tickLabs[i]};
    if (j === 6 && i % 2 === 0 && i !== 6) axis = {side: 'right', ticks: tickVals[i], labels: tickLabs[i]};
    const axes = [];
    if (axis) axes.push(axis);
    if (i === 6 && j === 6) axes.push({side: 'right', ticks: tickVals[6], labels: tickLabs[6]});

    const keepEnds = scale => { scale.ticks = [{value: scale.min}, {value: scale.max}]; };
    const scales = {
      x: {type: 'linear', min: axisLo[j], max: axisHi[j], display: false, offset: false,
          grid: {offset: false}, afterBuildTicks: keepEnds},
      y: {type: 'linear', min: axisLo[i], max: axisHi[i], display: false}
    };
    let datasets = [];
    const decor = {axis: axes[0] || null};

    if (i === j) {
      const [hist, dens, rug] = diagData[i];
      scales.yh = {type: 'linear', min: 0, max: 1.5, display: false};
      datasets = [
        {type: 'line', yAxisID: 'yh', data: asXY(dens), borderColor: '#000', borderWidth: 1,
         pointRadius: 0, fill: false, cubicInterpolationMode: 'monotone', order: 0},
        {type: 'scatter', yAxisID: 'yh', data: rug.map(x => ({x, y: 0.024})), pointStyle: 'line',
         pointRotation: 90, pointRadius: 1.7, pointBorderColor: '#000', pointBorderWidth: 0.7, order: 1},
        {type: 'bar', yAxisID: 'yh', data: asXY(hist), backgroundColor: '#a3a3a3', borderColor: '#333',
         borderWidth: 1, borderSkipped: false, barPercentage: 1, categoryPercentage: 1, order: 2}
      ];
      decor.label = varNames[i];
    } else if (i > j) {
      const [pts, fit] = lowerData[i + ',' + j];
      datasets = [
        {type: 'line', data: asXY(fit), borderColor: '#ff0000', borderWidth: 1, pointRadius: 0,
         fill: false, cubicInterpolationMode: 'monotone', order: 0},
        {type: 'scatter', data: pts, pointRadius: 2.4, pointBackgroundColor: '#000',
         pointBorderWidth: 0, order: 1}
      ];
    } else {
      decor.r = rValues[upperIdx];
      decor.ci = ciValues[upperIdx];
      upperIdx++;
    }

    const extra = axes.length > 1 ? axes.slice(1) : [];
    const plugins = [panelDecor];
    extra.forEach((ax, k) => {
      plugins.push({
        id: 'extraAxis' + k,
        afterDraw(chart) { panelDecor.afterDraw(chart, null, {axis: ax}); }
      });
    });

    new Chart(canvas, {
      type: 'scatter',
      data: {datasets},
      options: {
        responsive: false,
        animation: false,
        events: [],
        layout: {padding: PAD},
        scales,
        plugins: {legend: {display: false}, tooltip: {enabled: false}, panelDecor: decor}
      },
      plugins
    });
  }
}
</script>
</body>
</html>
